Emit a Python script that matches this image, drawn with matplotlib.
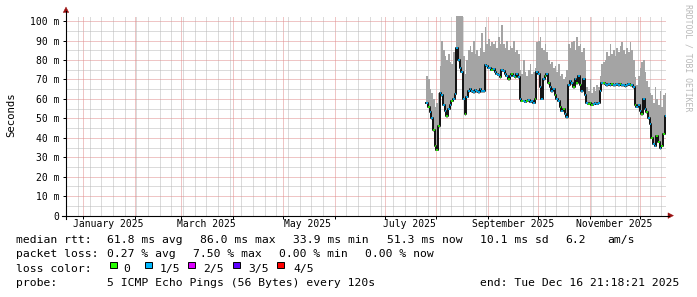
import matplotlib
matplotlib.use("Agg")
import matplotlib.pyplot as plt
import matplotlib.dates as mdates
import matplotlib.transforms as mtransforms
from matplotlib.ticker import MultipleLocator, FixedLocator, NullFormatter
from matplotlib.patches import Polygon, Rectangle
from matplotlib.lines import Line2D
from datetime import datetime, timedelta

W, H = 697, 297
START = datetime(2024, 12, 21, 21, 18, 21)
END = datetime(2025, 12, 16, 21, 18, 21)

# ---- data (day-of-year 2025, 0 = Jan 1) ----
first_day = 206
median_ms = [
    58, 56, 53, 50, 44, 36, 33.9, 46, 63, 62,          # 206-215
    57, 54, 51, 55, 57, 59, 60, 62.5, 86, 80,          # 216-225
    76, 74, 60, 52, 61, 64, 65, 64, 63.5, 64.5,        # 226-235
    64, 63.5, 65, 64, 64, 77.5, 77, 76, 76, 75,        # 236-245
    75.5, 74, 73, 72.5, 71, 75, 74.5, 73, 72, 70,      # 246-255
    72, 73, 72, 71, 73, 71, 60, 59, 59, 58.5,          # 256-265
    59, 59.5, 58.5, 59, 58, 60, 74, 73, 66, 60,        # 266-275
    70, 72, 73, 68, 66, 64, 65, 62, 60, 59,            # 276-285
    56, 54, 55, 52, 50.5, 67, 69, 68, 66, 70,          # 286-295
    68, 72, 67, 64, 70, 62, 58, 57.5, 58, 57,          # 296-305
    57.5, 58, 57.5, 58, 64, 68, 68, 67.5, 67, 67.5,    # 306-315
    67, 67.5, 67, 67, 67.5, 67, 67.5, 67, 67, 66.5,    # 316-325
    67, 67.5, 67, 67, 66, 57, 56, 57, 54, 52,          # 326-335
    60, 55, 53, 50, 47, 40, 37, 36, 41, 38,            # 336-345
    34.6, 36, 42, 51.3,                                # 346-349
]
smoke_top_ms = [
    72, 70, 65, 63, 60, 56, 58, 63, 77, 90,
    85, 82, 80, 83, 79, 78, 84, 86, 104, 104,
    104, 104, 82, 73, 80, 85, 87, 84, 90, 83,
    85, 82, 86, 94, 84, 97, 88, 91, 87, 89,
    88, 90, 86, 92, 88, 98, 88, 86, 90, 85,
    87, 86, 90, 84, 85, 83, 75, 73, 80, 74,
    72, 75, 78, 73, 74, 76, 89, 90, 92, 86,
    85, 88, 84, 80, 78, 79, 76, 77, 74, 78,
    72, 73, 70, 71, 75, 88, 86, 89, 90, 85,
    92, 87, 88, 84, 86, 80, 66, 64, 70, 63,
    66, 64, 67, 66, 72, 78, 79, 80, 84, 82,
    88, 83, 85, 82, 86, 84, 87, 89, 85, 83,
    86, 84, 89, 85, 80, 71, 67, 72, 76, 79,
    80, 74, 69, 66, 63, 62, 58, 66, 60, 57,
    64, 56, 62, 63,
]
loss_fifths = [
    1, 0, 1, 1, 0, 0, 0, 0, 1, 1,
    1, 1, 0, 1, 1, 0, 1, 1, 1, 1,
    1, 1, 1, 0, 1, 1, 1, 1, 1, 1,
    1, 1, 1, 1, 1, 1, 1, 1, 1, 0,
    1, 1, 1, 1, 0, 1, 1, 1, 1, 0,
    1, 0, 1, 0, 1, 1, 1, 0, 1, 1,
    0, 1, 1, 1, 1, 0, 1, 1, 1, 1,
    1, 0, 1, 0, 1, 1, 1, 0, 1, 1,
    0, 1, 0, 1, 1, 1, 1, 1, 0, 1,
    0, 1, 0, 1, 1, 1, 1, 0, 0, 0,
    1, 1, 1, 1, 1, 1, 0, 1, 1, 1,
    1, 0, 1, 1, 1, 1, 0, 1, 1, 1,
    1, 1, 0, 1, 1, 0, 1, 1, 1, 0,
    1, 1, 0, 1, 1, 0, 1, 1, 0, 0,
    1, 0, 0, 1,
]
loss_colors = ['#26ff00', '#00b8ff', '#dd00ff', '#5e00ff', '#ff0000']
loss_labels = ['0', '1/5', '2/5', '3/5', '4/5']

ytick_values = [0, 10, 20, 30, 40, 50, 60, 70, 80, 90, 100]
ytick_labels = ['0', '10 m', '20 m', '30 m', '40 m', '50 m', '60 m',
                '70 m', '80 m', '90 m', '100 m']
xlabel_dates = [datetime(2025, 1, 16), datetime(2025, 3, 16), datetime(2025, 5, 16),
                datetime(2025, 7, 16), datetime(2025, 9, 16), datetime(2025, 11, 16)]
xlabel_texts = ['January 2025', 'March 2025', 'May 2025', 'July 2025',
                'September 2025', 'November 2025']

legend_line1 = [('median rtt:', 16), ('61.8 ms avg', 106.7), ('86.0 ms max', 200),
                ('33.9 ms min', 293.3), ('51.3 ms now', 386.7), ('10.1 ms sd', 480),
                ('6.2', 565), ('am/s', 607)]
legend_line2 = [('packet loss:', 16), ('0.27 % avg', 106.7), ('7.50 % max', 193),
                ('0.00 % min', 279), ('0.00 % now', 365)]
legend_line4 = [('probe:', 16), ('5 ICMP Echo Pings (56 Bytes) every 120s', 106.7),
                ('end: Tue Dec 16 21:18:21 2025', 479.5)]
loss_box_x = [110, 145, 188, 233, 277]
loss_text_x = [123, 160, 203, 248, 293]

# ---- figure ----
MONO = 'DejaVu Sans Mono'
fig = plt.figure(figsize=(W / 100, H / 100), dpi=100)
fig.patch.set_facecolor('white')
L, B, PW, PH = 66.0, H - 215.6, 600.0, 200.0
ax = fig.add_axes([L / W, B / H, PW / W, PH / H])
ax.set_facecolor('white')

x = [datetime(2025, 1, 1) + timedelta(days=first_day + i) for i in range(len(median_ms))]
x_edges = x + [END]
med_e = median_ms + [median_ms[-1]]
top_e = smoke_top_ms + [smoke_top_ms[-1]]
low_e = [m - 0.8 for m in med_e]

ax.fill_between(x_edges, low_e, top_e, step='post', color='#a4a4a4', lw=0, zorder=2)
ax.step(x_edges, med_e, where='post', color='#101010', lw=1.4, zorder=3)
for i in range(len(median_ms)):
    ax.hlines(median_ms[i], x_edges[i], x_edges[i + 1],
              color=loss_colors[loss_fifths[i]], lw=1.2, zorder=4)

ax.set_xlim(START, END)
ax.set_ylim(0, 102.8)

# grid
ax.xaxis.set_major_locator(mdates.MonthLocator())
ax.xaxis.set_minor_locator(mdates.WeekdayLocator(byweekday=mdates.SU))
ax.xaxis.set_major_formatter(NullFormatter())
ax.xaxis.set_minor_formatter(NullFormatter())
ax.yaxis.set_major_locator(FixedLocator(ytick_values))
ax.yaxis.set_minor_locator(MultipleLocator(5))
ax.set_yticklabels(ytick_labels, fontfamily=MONO, fontsize=7)
ax.grid(which='major', color='#e08c8c', lw=0.72, ls=(0, (1, 1)), zorder=1)
ax.grid(which='minor', color='#b8b8b8', lw=0.72, ls=(0, (1, 1)), zorder=1)
ax.set_axisbelow(True)
ax.tick_params(axis='y', which='major', length=2.5, width=0.72, pad=2, color='#000000')
ax.tick_params(axis='y', which='minor', length=0)
ax.tick_params(axis='x', which='major', length=2.5, width=0.72, color='#000000')
ax.tick_params(axis='x', which='minor', length=0)
for s in ax.spines.values():
    s.set_visible(False)

trans = mtransforms.blended_transform_factory(ax.transData, ax.transAxes)
for d, t in zip(xlabel_dates, xlabel_texts):
    ax.text(d, -0.043, t, transform=trans, ha='center', va='center',
            fontfamily=MONO, fontsize=7, color='black')

# axis lines and arrows (pixel coordinates)
def px(xp, yp):
    return (xp / W, 1 - yp / H)

ax_line_color = '#000000'
fig.add_artist(Line2D([px(66, 0)[0]] * 2, [px(0, 219)[1], px(0, 11)[1]],
                      color=ax_line_color, lw=0.8, transform=fig.transFigure))
fig.add_artist(Line2D([px(62, 0)[0], px(669, 0)[0]], [px(0, 215.6)[1]] * 2,
                      color=ax_line_color, lw=0.8, transform=fig.transFigure))
arrow_c = '#9a1010'
fig.add_artist(Polygon([px(63.2, 12.5), px(68.8, 12.5), px(66, 7)], closed=True,
                       fc=arrow_c, ec=arrow_c, lw=0.3, transform=fig.transFigure))
fig.add_artist(Polygon([px(668, 212.8), px(668, 218.4), px(673.5, 215.6)], closed=True,
                       fc=arrow_c, ec=arrow_c, lw=0.3, transform=fig.transFigure))

# y label and watermark
fig.text(*px(11, 115), 'Seconds', rotation=90, ha='center', va='center',
         fontfamily=MONO, fontsize=7.7, color='black')
fig.text(*px(688, 58), 'RRDTOOL / TOBI OETIKER', rotation=270, ha='center', va='center',
         fontfamily=MONO, fontsize=5.9, color='#b8b8b8')

# legend
LF = 8.2
for text, xp in legend_line1:
    fig.text(*px(xp, 242.7), text, ha='left', va='baseline', fontfamily=MONO, fontsize=LF)
for text, xp in legend_line2:
    fig.text(*px(xp, 257.2), text, ha='left', va='baseline', fontfamily=MONO, fontsize=LF)
fig.text(*px(16, 271.7), 'loss color:', ha='left', va='baseline', fontfamily=MONO, fontsize=LF)
for c, lab, bx, tx in zip(loss_colors, loss_labels, loss_box_x, loss_text_x):
    fig.add_artist(Rectangle(px(bx, 268), 6.5 / W, 6.5 / H, fc=c, ec='black', lw=0.7,
                             transform=fig.transFigure))
    fig.text(*px(tx, 271.7), lab, ha='left', va='baseline', fontfamily=MONO, fontsize=LF)
for text, xp in legend_line4:
    fig.text(*px(xp, 286.2), text, ha='left', va='baseline', fontfamily=MONO, fontsize=LF)

fig.savefig('out.png', dpi=100, facecolor='white')
